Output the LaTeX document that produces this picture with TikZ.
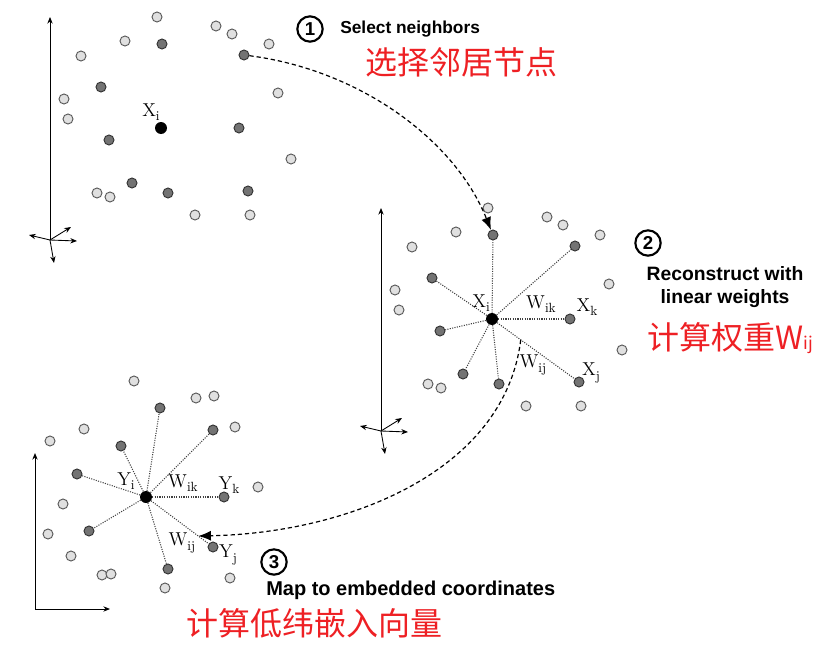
\documentclass[tikz,border=0pt]{standalone}
\usepackage{fontspec}
\setsansfont{Liberation Sans}
\newfontfamily\cjk{Noto Sans CJK SC}
\usepackage{tikz}
\usetikzlibrary{arrows.meta, positioning, calc}

\definecolor{zhred}{RGB}{238,32,36}
\newcommand\lbl[2]{#1\raisebox{-0.55ex}{\fontsize{10}{10}\selectfont #2}}
% sample cloud, the same in panels 1 and 2
\newcommand\litepts{157/17, 216/26, 232/34, 125/41, 269/44, 81/56, 278/93, 64/99, 68/119, 291/159, 97/193, 110/197, 195/215, 250/215}
\newcommand\darkpts{162/44, 244/55, 101/87, 239/128, 109/140, 132/183, 168/193, 248/191}
% embedded cloud, panel 3
\newcommand\litepre{134/381, 196/398, 214/396, 84/429, 235/427, 50/441, 258/487, 63/504, 48/534, 71/556, 102/575, 111/574, 230/578, 165/588}
\newcommand\darkpre{160/408, 213/430, 121/446, 77/474, 224/497, 89/531, 213/547, 168/569}

\tikzset{
  lt/.style={circle, draw=black!65, fill=black!12, line width=0.7pt, inner sep=0pt, minimum size=7.5pt},
  dk/.style={circle, draw=black!80, fill=black!55, line width=0.7pt, inner sep=0pt, minimum size=7.5pt},
  ctr/.style={circle, fill=black, inner sep=0pt, minimum size=9pt},
  wline/.style={densely dotted, black!75, line width=0.8pt},
  axis/.style={-{Stealth[length=5pt, width=4pt]}, line width=0.65pt},
  hop/.style={dash pattern=on 3.2pt off 2.2pt, line width=0.9pt, -{Latex[length=9.5pt, width=7.5pt]}},
  lab/.style={inner sep=0pt, font=\fontsize{14}{16}\selectfont},
  num/.style={circle, draw, line width=1.6pt, inner sep=0pt, minimum size=19pt, font=\sffamily\bfseries\fontsize{14}{14}\selectfont},
  en/.style={inner sep=0pt, font=\sffamily\bfseries\fontsize{13}{17}\selectfont},
  zh/.style={inner sep=0pt, text=zhred, font=\cjk\fontsize{24}{26}\selectfont}
}

\begin{document}
\begin{tikzpicture}[x=0.75pt, y=-0.75pt]
\useasboundingbox (0,0) rectangle (822,646);

% panel 1: high dimensional data
\begin{scope}
\coordinate (a-o) at (50,240);
\draw[axis] (a-o) -- ++(0,-223);
\draw[axis] (a-o) -- ++(27,1);
\draw[axis] (a-o) -- ++(21,-13);
\draw[axis] (a-o) -- ++(-21,-5);
\draw[axis] (a-o) -- ++(4,23);
\foreach \x/\y [count=\n] in \litepts {\node[lt] (a-l\n) at (\x,\y) {};}
\foreach \x/\y [count=\n] in \darkpts {\node[dk] (a-\n) at (\x,\y) {};}
\node[ctr] (a-i) at (161,128) {};
\node[lab] (a-xi) at (151,112) {\lbl{X}{i}};
\end{scope}

% panel 2: same data, weights to the neighbours
\begin{scope}[shift={(331,191)}]
\coordinate (b-o) at (50,240);
\draw[axis] (b-o) -- ++(0,-223);
\draw[axis] (b-o) -- ++(27,1);
\draw[axis] (b-o) -- ++(21,-13);
\draw[axis] (b-o) -- ++(-21,-5);
\draw[axis] (b-o) -- ++(4,23);
\foreach \x/\y [count=\n] in \litepts {\node[lt] (b-l\n) at (\x,\y) {};}
\foreach \x/\y [count=\n] in \darkpts {\node[dk] (b-\n) at (\x,\y) {};}
\node[ctr] (b-i) at (161,128) {};
\foreach \n in {1,...,8} \draw[wline] (b-i) -- (b-\n);
\node[lab] (b-xi) at (150,112) {\lbl{X}{i}};
\node[lab] (b-wik) at (210,113) {\lbl{W}{ik}};
\node[lab] (b-xk) at (256,116) {\lbl{X}{k}};
\node[lab] (b-wij) at (202,174) {\lbl{W}{ij}};
\node[lab] (b-xj) at (260,182) {\lbl{X}{j}};
\end{scope}

% panel 3: embedded coordinates
\coordinate (c-o) at (35,609);
\draw[axis] (c-o) -- ++(0,-156);
\draw[axis] (c-o) -- ++(75,0);
\foreach \x/\y [count=\n] in \litepre {\node[lt] (c-l\n) at (\x,\y) {};}
\foreach \x/\y [count=\n] in \darkpre {\node[dk] (c-\n) at (\x,\y) {};}
\node[ctr] (c-i) at (146,497) {};
\foreach \n in {1,...,8} \draw[wline] (c-i) -- (c-\n);
\node[lab] (c-yi) at (126,481) {\lbl{Y}{i}};
\node[lab] (c-wik) at (183,483) {\lbl{W}{ik}};
\node[lab] (c-yk) at (229,485) {\lbl{Y}{k}};
\node[lab] (c-wij) at (182,543) {\lbl{W}{ij}};
\node[lab] (c-yj) at (228,555) {\lbl{Y}{j}};

% steps
\coordinate (w-from) at ($(b-i)!0.33!(b-8)$);
\coordinate (w-to) at ($(c-i)!0.78!(c-7)$);
\draw[hop] (a-2) .. controls (360,70) and (455,140) .. (b-1);
\draw[hop] (w-from) .. controls (505,470) and (350,533) .. (w-to);

\node[num] (n1) at (310,29) {1};
\node[en, anchor=base west] (t1) at (340,33.5) {Select neighbors};
\node[zh, anchor=west] (z1) at (365,62) {选择邻居节点};

\node[num] (n2) at (648,243) {2};
\node[en, align=center, font=\sffamily\bfseries\fontsize{14.5}{17}\selectfont] (t2) at (725,287) {Reconstruct with\\linear weights};
\node[zh, anchor=west] (z2) at (647,338) {计算权重W{\fontsize{13}{13}\selectfont ij}};

\node[num] (n3) at (274,562) {3};
\node[en, anchor=base west, font=\sffamily\bfseries\fontsize{15}{17}\selectfont] (t3) at (266,595) {Map to embedded coordinates};
\node[zh, anchor=west] (z3) at (186,623) {计算低纬嵌入向量};
\end{tikzpicture}
\end{document}
